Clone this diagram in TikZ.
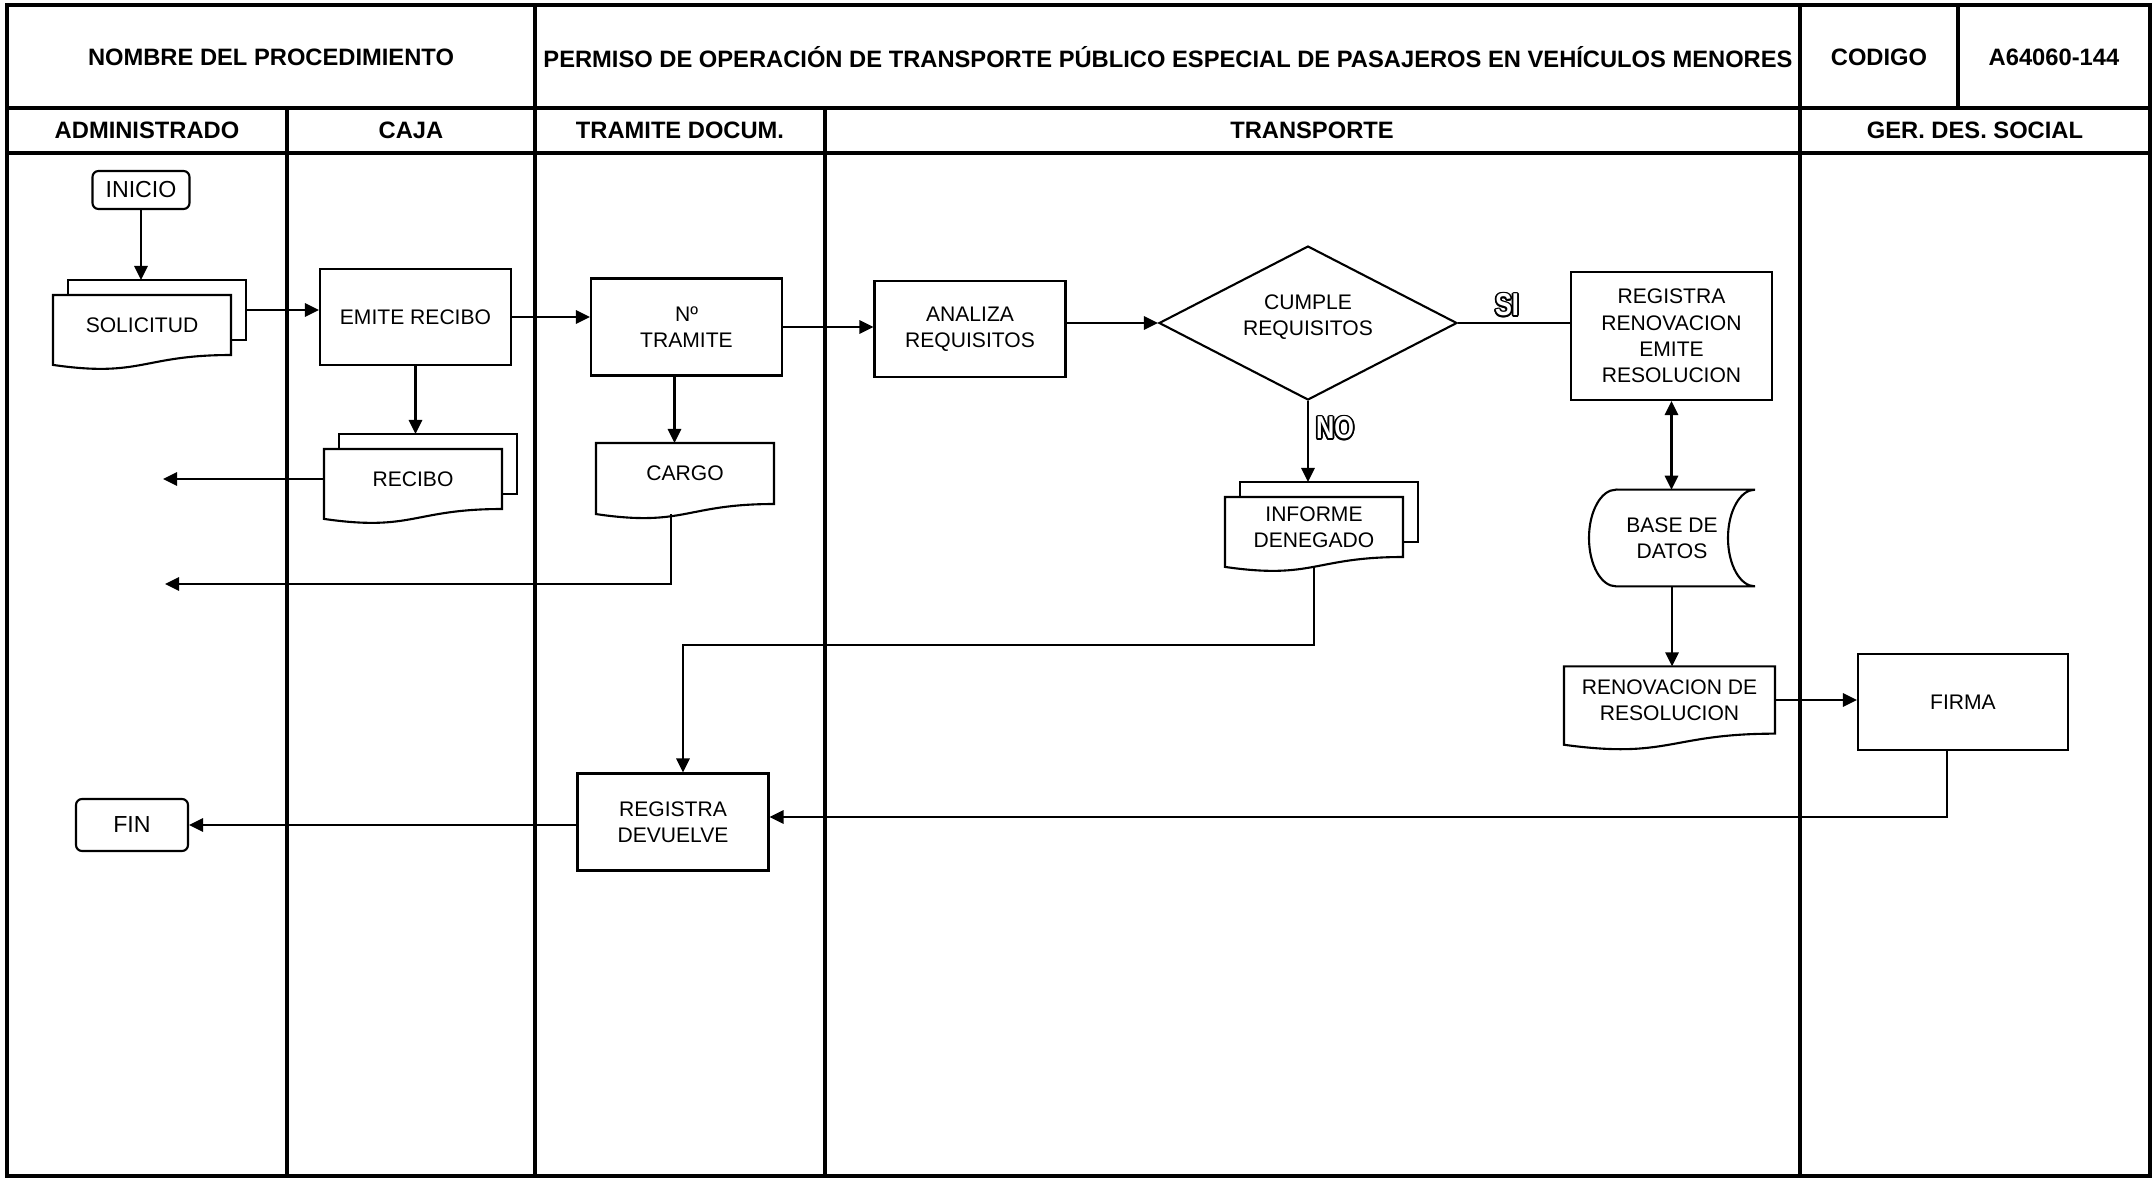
\documentclass[tikz,border=0pt]{standalone}
\usepackage{fontspec}
\setmainfont{Liberation Sans}
\usetikzlibrary{arrows.meta, calc, shapes.geometric}

\begin{document}
\begin{tikzpicture}[
    x=0.1mm, y=-0.1mm,
    >={Triangle[length=4pt, width=3.8pt]},
    lane/.style={line width=1.4pt},
    line/.style={line width=0.6pt},
    arrow/.style={->, line width=0.6pt},
    head/.style={font=\fontsize{6.75}{8}\selectfont\bfseries},
    box/.style={draw, line width=0.6pt, align=center, inner sep=1pt,
        minimum width=19.1mm, minimum height=9.6mm, font=\fontsize{6}{7.5}\selectfont},
    term/.style={box, rounded corners=0.6mm, font=\fontsize{6.6}{8}\selectfont},
    page/.style={box, draw=none, outer sep=0pt},
    multi/.style={page, minimum width=17.8mm, minimum height=6mm},
    yesno/.style={font=\fontsize{9}{10}\selectfont\bfseries, inner sep=0pt,
        transform shape, xscale=0.8}
]
\useasboundingbox (0,0) rectangle (2156,1179);

% lanes
\draw[lane] (7,5) rectangle (2150,1176);
\draw[lane] (7,108) -- (2150,108);
\draw[lane] (7,153) -- (2150,153);
\foreach \x in {535,1800} \draw[lane] (\x,5) -- (\x,1176);
\foreach \x in {287,825} \draw[lane] (\x,108) -- (\x,1176);
\draw[lane] (1958,5) -- (1958,108);

\node[head] (hnom) at (271,57) {NOMBRE DEL PROCEDIMIENTO};
\node[head] (hper) at (1168,57) {PERMISO DE OPERACIÓN DE TRANSPORTE PÚBLICO ESPECIAL DE PASAJEROS EN VEHÍCULOS MENORES};
\node[head] (hcod) at (1879,57) {CODIGO};
\node[head] (hnum) at (2054,57) {A64060-144};
\node[head] (hadm) at (147,130) {ADMINISTRADO};
\node[head] (hcaj) at (411,130) {CAJA};
\node[head] (htra) at (680,130) {TRAMITE DOCUM.};
\node[head] (htrn) at (1312,130) {TRANSPORTE};
\node[head] (hger) at (1975,130) {GER. DES. SOCIAL};

% steps
\node[term, minimum width=9.7mm, minimum height=3.8mm] (ini) at (141,190) {INICIO};
\node[multi] (sol) at (142,325) {SOLICITUD};
\node[multi] (sol-b) at ([shift={(1.5mm,1.5mm)}]sol) {};
\node[box] (emi) at (415.5,317) {EMITE RECIBO};
\node[multi] (rec) at (413,479) {RECIBO};
\node[multi] (rec-b) at ([shift={(1.5mm,1.5mm)}]rec) {};
\node[box, minimum height=9.7mm] (tra) at (686.5,327) {Nº\\TRAMITE};
\node[page, minimum width=17.8mm, minimum height=6.1mm] (car) at (685,473.5) {CARGO};
\node[box] (ana) at (970,329) {ANALIZA\\REQUISITOS};
\node[box, diamond, aspect=2, minimum width=29.8mm, minimum height=15.4mm, inner sep=0pt] (dec) at (1308,323) {CUMPLE\\REQUISITOS\\[-3pt]\mbox{}};
\node[box, minimum width=20.1mm, minimum height=12.8mm] (reg) at (1671.5,336) {REGISTRA\\RENOVACION\\EMITE\\RESOLUCION};
\node[multi] (inf) at (1314,527) {INFORME\\DENEGADO};
\node[multi] (inf-b) at ([shift={(1.5mm,1.5mm)}]inf) {};
\node[page, minimum width=16.6mm, minimum height=9.67mm] (db) at (1672,538) {BASE DE\\DATOS};
\node[page, minimum width=21.1mm, minimum height=6.73mm] (ren) at (1669.5,700) {RENOVACION DE\\RESOLUCION};
\node[box, minimum width=21mm] (fir) at (1963,702) {FIRMA};
\node[box, minimum height=9.7mm] (dev) at (673,822) {REGISTRA\\DEVUELVE};
\node[term, minimum width=11.2mm, minimum height=5.2mm] (fin) at (132,825) {FIN};

\coordinate (out1) at (163,479);
\coordinate (out2) at (165,584);
\coordinate (si) at (1507,305);
\coordinate (no) at (1335,428);

% document outlines
\foreach \d in {sol,rec,inf,car,ren}
  \draw[line] (\d.north west) -- (\d.north east) -- (\d.south east)
    .. controls (\d.south) and ($(\d.south)!-0.38!(\d.north)$)
    .. ($(\d.south west)!-0.165!(\d.north west)$) -- cycle;
\foreach \d in {sol,rec,inf}
  \draw[line] (\d-b.west |- \d.north) -- (\d-b.north west) -- (\d-b.north east)
    -- (\d-b.south east) -- (\d.east |- \d-b.south);
\draw[line] ([xshift=2.7mm]db.north west) -- (db.north east)
  arc[start angle=90, end angle=270, x radius=2.7mm, y radius=4.835mm]
  -- ([xshift=2.7mm]db.south west)
  arc[start angle=270, end angle=90, x radius=2.7mm, y radius=4.835mm] -- cycle;

% flow
\draw[arrow] (ini) -- (ini |- sol-b.north);
\draw[arrow] (sol-b.east) -- (sol-b.east -| emi.west);
\draw[arrow] (emi) -- (emi |- rec-b.north);
\draw[arrow] (rec) -- (out1);
\draw[arrow] (emi) -- (emi -| tra.west);
\draw[arrow] ([xshift=-1.2mm]tra.south) -- ([xshift=-1.2mm]tra.south |- car.north);
\draw[arrow] ([shift={(-1.4mm,-1mm)}]car.south) |- (out2);
\draw[arrow] (tra) -- (tra -| ana.west);
\draw[arrow] (dec.west -| ana.east) -- (dec.west);
\draw[line] (dec.east) -- (dec.east -| reg.west);
\draw[arrow] (dec.south) -- (dec.south |- inf-b.north);
\draw[arrow] ([yshift=-1mm]inf.south) -- ++(0,78) -| ([xshift=1mm]dev.north);
\draw[arrow, <->] (reg) -- (reg |- db.north);
\draw[arrow] (db) -- (db |- ren.north);
\draw[arrow] (ren) -- (ren -| fir.west);
\draw[arrow] ([xshift=-1.6mm]fir.south) |- ([yshift=0.5mm]dev.east);
\draw[arrow] (dev.west |- fin) -- (fin);

% outlined labels
\foreach \a in {0,30,...,330} {
  \node[yesno] (si-\a) at ([shift={(\a:0.5pt)}]si) {SI};
  \node[yesno] (no-\a) at ([shift={(\a:0.5pt)}]no) {NO};
}
\node[yesno, text=white] (silbl) at (si) {SI};
\node[yesno, text=white] (nolbl) at (no) {NO};
\end{tikzpicture}
\end{document}
